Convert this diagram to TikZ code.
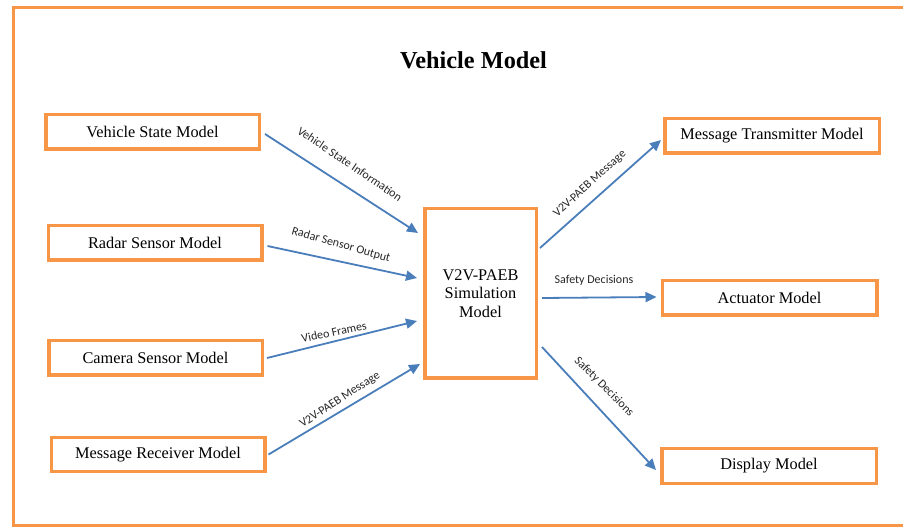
\documentclass[tikz,border=0pt]{standalone}
\usepackage{fontspec}
\setmainfont{Liberation Serif}
\newfontfamily\labelfont{Carlito}
\usetikzlibrary{arrows.meta}

\definecolor{boxorange}{RGB}{247,150,70}
\definecolor{flowblue}{RGB}{74,126,187}

\tikzset{
  model/.style={draw=boxorange, line width=3.5pt, fill=white, rectangle,
    inner sep=2pt, align=center, font=\fontsize{16.3}{18.5}\selectfont},
  leftbox/.style={model, minimum width=213.5pt, minimum height=34.5pt},
  rightbox/.style={model, minimum width=214.5pt, minimum height=34.5pt},
  flow/.style={draw=flowblue, line width=1.8pt,
    -{Triangle[length=11pt,width=10pt]}},
  flowlabel/.style={font=\labelfont\fontsize{12}{13}\selectfont,
    text=black!85, inner sep=0pt},
  frame/.style={draw=boxorange, line width=3pt}
}

\begin{document}
\begin{tikzpicture}[x=1pt, y=-1pt]
  \useasboundingbox (0,0) rectangle (903,529);

  % outer frame of the vehicle model (runs off the right edge)
  \draw[frame] (920,7.5) -- (13.5,7.5) -- (13.5,525.5) -- (920,525.5);

  % title
  \node[font=\bfseries\fontsize{24.3}{28}\selectfont] (title) at (473.5,60) {Vehicle Model};

  % input models
  \node[leftbox] (vsm) at (152.5,132) {Vehicle State Model};
  \node[leftbox] (rsm) at (155,243)   {Radar Sensor Model};
  \node[leftbox] (csm) at (155.5,358) {Camera Sensor Model};
  \node[leftbox, minimum height=33.5pt] (mrm) at (158,454.5) {Message Receiver Model};

  % central simulation model
  \node[model, minimum width=111.5pt, minimum height=169.5pt] (sim) at (480.5,293.5)
    {V2V-PAEB\\Simulation\\Model};

  % output models
  \node[rightbox] (mtm) at (772,136)   {Message Transmitter Model};
  \node[rightbox] (act) at (769.5,298) {Actuator Model};
  \node[rightbox] (dsp) at (769,466)   {Display Model};

  % inputs to the simulation model
  \draw[flow] ([shift={(4,2)}]vsm.east) -- ([shift={(-5,-60.5)}]sim.west)
    node[flowlabel, rotate=-34, at={(350,164)}] {Vehicle State Information};
  \draw[flow] ([shift={(4,3)}]rsm.east) -- ([shift={(-6,-15.5)}]sim.west)
    node[flowlabel, rotate=-16, at={(341,245)}] {Radar Sensor Output};
  \draw[flow] ([shift={(3,0)}]csm.east) -- ([shift={(-6,27.5)}]sim.west)
    node[flowlabel, rotate=12, at={(334,332)}] {Video Frames};
  \draw[flow] ([shift={(2,0)}]mrm.east) -- ([shift={(-3,70.5)}]sim.west)
    node[flowlabel, rotate=33, at={(340,400)}] {V2V-PAEB Message};

  % outputs of the simulation model
  \draw[flow] ([shift={(2,-45.5)}]sim.east) -- ([shift={(-2,4)}]mtm.west)
    node[flowlabel, rotate=42, at={(590,184)}] {V2V-PAEB Message};
  \draw[flow] ([shift={(4,4.5)}]sim.east) -- ([shift={(-4,-1)}]act.west)
    node[flowlabel, at={(594,280)}] {Safety Decisions};
  \draw[flow] ([shift={(4,53.5)}]sim.east) -- ([shift={(-4,4)}]dsp.west)
    node[flowlabel, rotate=-45, at={(604,387)}] {Safety Decisions};
\end{tikzpicture}
\end{document}
